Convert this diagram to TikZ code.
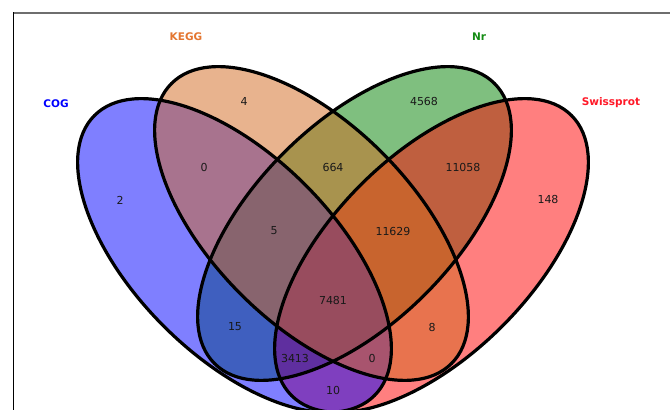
\documentclass[tikz,border=0pt]{standalone}
\usepackage{fontspec}
\setmainfont{DejaVu Sans}
\definecolor{cogblue}{RGB}{0,0,255}
\definecolor{keggorange}{RGB}{210,105,30}
\definecolor{nrgreen}{RGB}{0,128,0}
\definecolor{spred}{RGB}{255,0,0}
\definecolor{keggtext}{RGB}{228,118,48}
\definecolor{nrtext}{RGB}{20,140,20}
\definecolor{sptext}{RGB}{255,25,40}
\definecolor{framegray}{RGB}{110,110,110}
\tikzset{
  setfill/.style={fill=#1, fill opacity=0.5, draw=none},
  setline/.style={draw=black, line width=3.2pt},
  count/.style={font=\fontsize{11}{13}\selectfont, text=black!90, inner sep=0pt},
  setname/.style={font=\bfseries\fontsize{10.5}{12}\selectfont, text=#1, inner sep=0pt},
}
\begin{document}
\begin{tikzpicture}[x=1pt,y=1pt]
\useasboundingbox (0,0) rectangle (670,410);
\fill[white] (0,0) rectangle (670,410);
% panel frame
\draw[framegray, line width=1.4pt] (13,397) -- (670,397);
\draw[black, line width=0.8pt] (13,397.7) -- (13,0);

% ellipse centres
\coordinate (cogC) at (234.5,154.5);
\coordinate (keggC) at (311.5,186.5);
\coordinate (nrC) at (354.5,186.5);
\coordinate (spC) at (431.5,154.5);

% translucent set fills
\path[setfill=nrgreen, rotate around={45:(nrC)}] (nrC) ellipse [x radius=198, y radius=100];
\path[setfill=spred, rotate around={45:(spC)}] (spC) ellipse [x radius=198, y radius=100];
\path[setfill=cogblue, rotate around={-45:(cogC)}] (cogC) ellipse [x radius=198, y radius=100];
\path[setfill=keggorange, rotate around={-45:(keggC)}] (keggC) ellipse [x radius=198, y radius=100];

% outlines
\draw[setline, rotate around={45:(nrC)}] (nrC) ellipse [x radius=198, y radius=100];
\draw[setline, rotate around={45:(spC)}] (spC) ellipse [x radius=198, y radius=100];
\draw[setline, rotate around={-45:(cogC)}] (cogC) ellipse [x radius=198, y radius=100];
\draw[setline, rotate around={-45:(keggC)}] (keggC) ellipse [x radius=198, y radius=100];

% set names
\node[setname=cogblue] (nCOG) at (56,306) {COG};
\node[setname=keggtext] (nKEGG) at (186,373) {KEGG};
\node[setname=nrtext] (nNr) at (479,373) {Nr};
\node[setname=sptext] (nSP) at (611,307) {Swissprot};

% region counts
\node[count] (c1) at (120,210) {2};
\node[count] (c2) at (244,309) {4};
\node[count] (c3) at (424,309) {4568};
\node[count] (c4) at (548,211) {148};
\node[count] (c5) at (204,243) {0};
\node[count] (c6) at (333,243) {664};
\node[count] (c7) at (463,243) {11058};
\node[count] (c8) at (274,179) {5};
\node[count] (c9) at (393,179) {11629};
\node[count] (c10) at (333,110) {7481};
\node[count] (c11) at (235,83) {15};
\node[count] (c12) at (432,83) {8};
\node[count] (c13) at (295,52) {3413};
\node[count] (c14) at (372,52) {0};
\node[count] (c15) at (333,20) {10};
\end{tikzpicture}
\end{document}
